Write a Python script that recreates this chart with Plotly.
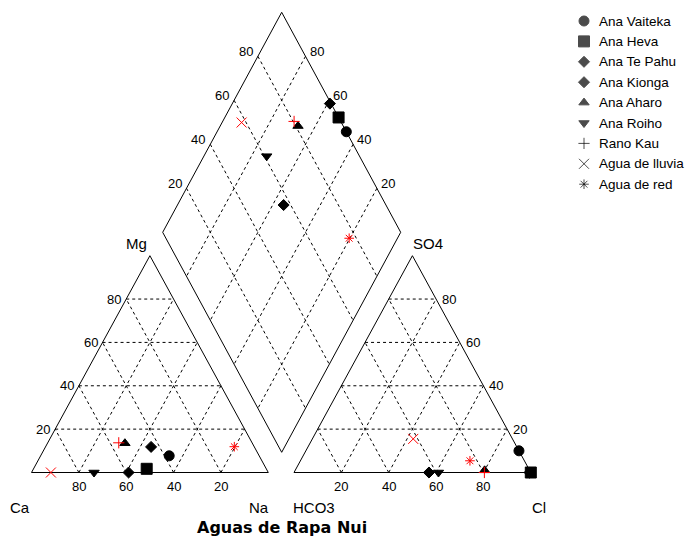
import plotly.graph_objects as go

# ---- sample chemistry (% of meq) ----
samples = ["Ana Vaiteka", "Ana Heva", "Ana Te Pahu", "Ana Kionga", "Ana Aharo",
           "Ana Roiho", "Rano Kau", "Agua de lluvia", "Agua de red"]
ca = [38.0, 50.5, 59.0, 43.6, 53.8, 73.6, 56.3, 91.8, 8.4]
mg = [7.7, 1.7, 0.0, 11.8, 13.5, 0.0, 13.7, 0.0, 11.9]
na = [54.3, 47.8, 41.0, 44.6, 32.7, 26.4, 30.0, 8.2, 79.7]
hco3 = [0.0, 0.0, 0.5, 43.0, 19.0, 39.0, 19.6, 41.9, 23.0]
so4 = [10.0, 0.0, 0.0, 0.0, 1.0, 0.0, 0.0, 15.5, 5.4]
cl = [90.0, 100.0, 99.5, 57.0, 80.0, 61.0, 80.4, 42.6, 71.6]

symbols = ["circle", "square", "diamond", "diamond", "triangle-up",
           "triangle-down", "cross-thin-open", "x-thin-open", "asterisk-open"]
sizes = [10, 11, 8.5, 8.5, 9, 9, 8, 10, 8]
colors = ["black"] * 6 + ["red"] * 3

grid_ticks = [20, 40, 60, 80]
title = "Aguas de Rapa Nui"

# ---- layout geometry (page pixels) ----
WIDTH, HEIGHT = 696, 538
TW, TH = 236.8, 216.8          # triangle base width / height
BASE_Y = 472.5
CAT_X0 = 31.5                  # Ca corner
AN_X0 = 294.0                  # HCO3 corner
D_TOP = (281.7, 12.3)          # diamond top vertex
DW, DH = 119.0, 220.0          # diamond half width / half height

FONT = "Liberation Sans, Arial, sans-serif"


def cat_xy(c, m, n):
    t = c + m + n
    m, n = m / t, n / t
    return CAT_X0 + TW * (n + m / 2), BASE_Y - TH * m


def an_xy(h, s, c):
    t = h + s + c
    s, c = s / t, c / t
    return AN_X0 + TW * (c + s / 2), BASE_Y - TH * s


def dia_xy(n, h):
    # n: Na fraction, h: HCO3 fraction
    return D_TOP[0] + DW * (n - h), D_TOP[1] + DH * (n + h)


def seg(xs, ys, p, q):
    xs += [p[0], q[0], None]
    ys += [p[1], q[1], None]


# outlines
ox, oy = [], []
for f in (cat_xy, an_xy):
    a, b, c = f(100, 0, 0), f(0, 0, 100), f(0, 100, 0)
    ox += [a[0], b[0], c[0], a[0], None]
    oy += [a[1], b[1], c[1], a[1], None]
corners = [dia_xy(0, 0), dia_xy(1, 0), dia_xy(1, 1), dia_xy(0, 1)]
ox += [p[0] for p in corners] + [corners[0][0], None]
oy += [p[1] for p in corners] + [corners[0][1], None]

# dashed grid
gx, gy = [], []
for v in grid_ticks:
    k = 100 - v
    for f in (cat_xy, an_xy):
        seg(gx, gy, f(k, v, 0), f(0, v, k))   # middle component constant
        seg(gx, gy, f(k, 0, v), f(0, k, v))   # right component constant
        seg(gx, gy, f(v, 0, k), f(v, k, 0))   # left component constant
    seg(gx, gy, dia_xy(v / 100, 0), dia_xy(v / 100, 1))
    seg(gx, gy, dia_xy(0, v / 100), dia_xy(1, v / 100))

fig = go.Figure()
fig.add_trace(go.Scatter(x=gx, y=gy, mode="lines", hoverinfo="skip",
                         line=dict(color="black", width=1, dash="3px,3px")))
fig.add_trace(go.Scatter(x=ox, y=oy, mode="lines", hoverinfo="skip",
                         line=dict(color="black", width=1)))

# sample points in the three fields
for i, name in enumerate(samples):
    cx, cy = cat_xy(ca[i], mg[i], na[i])
    ax, ay = an_xy(hco3[i], so4[i], cl[i])
    tc = ca[i] + mg[i] + na[i]
    ta = hco3[i] + so4[i] + cl[i]
    dx, dy = dia_xy(na[i] / tc, hco3[i] / ta)
    fig.add_trace(go.Scatter(
        x=[cx, ax, dx], y=[cy, ay, dy], mode="markers", name=name,
        marker=dict(symbol=symbols[i], size=sizes[i], color=colors[i],
                    line=dict(color=colors[i], width=1))))

# legend column
LEG_X, LEG_Y0, LEG_DY = 584, 21, 20.4
fig.add_trace(go.Scatter(
    x=[LEG_X] * len(samples), y=[LEG_Y0 + LEG_DY * i for i in range(len(samples))],
    mode="markers", hoverinfo="skip",
    marker=dict(symbol=symbols, size=sizes, color="black",
                line=dict(color="black", width=1))))

ann = []


def label(x, y, text, xanchor="center", size=13, family=FONT):
    ann.append(dict(x=x, y=y, text=text, xref="x", yref="y", showarrow=False,
                    xanchor=xanchor, yanchor="middle",
                    font=dict(family=family, size=size, color="black")))


for i, name in enumerate(samples):
    label(LEG_X + 13, LEG_Y0 + LEG_DY * i, name, "left", 13.5)

for v in grid_ticks:
    x, y = cat_xy(v, 0, 100 - v)
    label(x, y + 14, str(v))
    x, y = cat_xy(100 - v, v, 0)
    label(x - 3, y, str(v), "right")
    x, y = an_xy(100 - v, 0, v)
    label(x, y + 14, str(v))
    x, y = an_xy(0, v, 100 - v)
    label(x + 4, y, str(v), "left")
    x, y = dia_xy(0, 1 - v / 100)
    label(x - 3, y - 5, str(v), "right")
    x, y = dia_xy(1 - v / 100, 0)
    label(x + 2, y - 5, str(v), "left")

x, y = cat_xy(0, 100, 0)
label(x - 1, y - 12, "Mg", "right", 15)
x, y = an_xy(0, 100, 0)
label(x - 1, y - 12, "SO4", "left", 15)
x, y = cat_xy(100, 0, 0)
label(x - 12, y + 35, "Ca", "center", 15)
x, y = cat_xy(0, 0, 100)
label(x - 9, y + 35, "Na", "center", 15)
x, y = an_xy(100, 0, 0)
label(x - 3, y + 35, "HCO3", "left", 15)
x, y = an_xy(0, 0, 100)
label(x + 8, y + 35, "Cl", "center", 15)

label(D_TOP[0], 527, "<b>" + title + "</b>", "center", 16,
      "DejaVu Sans, sans-serif")

fig.update_layout(
    width=WIDTH, height=HEIGHT, autosize=False,
    margin=dict(l=0, r=0, t=0, b=0),
    paper_bgcolor="white", plot_bgcolor="white",
    showlegend=False, annotations=ann,
    xaxis=dict(range=[0, WIDTH], visible=False, fixedrange=True),
    yaxis=dict(range=[HEIGHT, 0], visible=False, fixedrange=True),
)

fig.write_html("out.html")
